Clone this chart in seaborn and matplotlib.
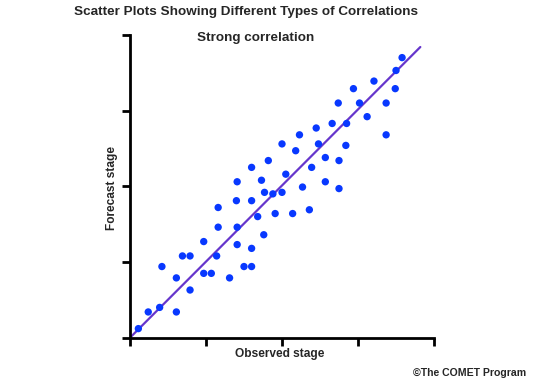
import matplotlib
matplotlib.use("Agg")
import matplotlib.pyplot as plt
import seaborn as sns
import pandas as pd

# Data
observed = [0.11, 0.24, 0.39, 0.61, 0.42, 0.61, 0.79, 0.69, 0.79, 0.97,
            0.97, 1.07, 1.14, 1.31, 1.16, 1.16, 1.41, 1.50, 1.60, 1.60,
            1.76, 1.41, 1.40, 1.60, 1.41, 1.60, 1.73, 1.82, 1.77, 1.88,
            2.00, 1.68, 1.91, 2.14, 2.36, 2.00, 2.23, 2.18, 2.05, 2.27,
            2.39, 2.48, 2.57, 2.57, 2.75, 2.75, 2.45, 2.66, 2.85, 2.84,
            2.74, 2.94, 3.02, 3.12, 3.21, 3.37, 3.37, 3.49, 3.50, 3.58]
forecast = [0.12, 0.34, 0.40, 0.34, 0.94, 0.79, 0.63, 1.08, 1.08, 1.27,
            0.85, 0.85, 1.08, 0.79, 1.46, 1.72, 1.23, 0.94, 0.94, 1.18,
            1.36, 1.46, 1.81, 1.81, 2.06, 2.25, 2.08, 2.34, 1.92, 1.90,
            1.92, 1.60, 1.64, 1.64, 1.69, 2.56, 2.68, 2.47, 2.16, 1.99,
            2.25, 2.56, 2.38, 2.06, 2.34, 1.97, 2.77, 2.83, 2.83, 2.54,
            3.10, 3.29, 3.10, 2.92, 3.39, 3.10, 2.68, 3.29, 3.53, 3.70]
fit_x = [0.0, 3.82]
fit_y = [0.0, 3.84]
ticks = [0, 1, 2, 3, 4]

title = "Scatter Plots Showing Different Types of Correlations"
subtitle = "Strong correlation"
xlabel = "Observed stage"
ylabel = "Forecast stage"
credit = "\u00a9The COMET Program"

sns.set_style("ticks")
plt.rcParams['font.family'] = ['Liberation Sans', 'DejaVu Sans']

df = pd.DataFrame({"obs": observed, "fcst": forecast})
line_df = pd.DataFrame({"x": fit_x, "y": fit_y})

fig = plt.figure(figsize=(5.4, 3.85), dpi=100)
ax = fig.add_axes([130 / 540, (385 - 337.7) / 385, 304 / 540, (337.7 - 34.9) / 385])

sns.lineplot(data=line_df, x="x", y="y", ax=ax, color="#6636cc", linewidth=1.6,
             zorder=2)
sns.scatterplot(data=df, x="obs", y="fcst", ax=ax, color="#0838ff", s=28,
                edgecolor="none", zorder=3, clip_on=False)

ax.set_xlim(0, 4)
ax.set_ylim(0, 4)
ax.set_xticks(ticks)
ax.set_yticks(ticks)
ax.set_xticklabels([])
ax.set_yticklabels([])
ax.set_xlabel("")
ax.set_ylabel("")
for side in ["top", "right"]:
    ax.spines[side].set_visible(False)
for side in ["left", "bottom"]:
    ax.spines[side].set_linewidth(2)
    ax.spines[side].set_color("black")
    ax.spines[side].set_capstyle("projecting")
ax.tick_params(direction="out", length=6, width=2, color="black")

fs = 9.7
fig.text(246.5 / 540, 1 - 12 / 385, title, ha="center", va="center",
         fontsize=fs, fontweight="bold")
fig.text(255.3 / 540, 1 - 38.3 / 385, subtitle, ha="center", va="center",
         fontsize=fs, fontweight="bold")
fig.text(279.5 / 540, 1 - 354 / 385, xlabel, ha="center", va="center",
         fontsize=8.6, fontweight="bold")
fig.text(112 / 540, 1 - 188 / 385, ylabel, ha="center", va="center",
         rotation=90, fontsize=8.6, fontweight="bold")
fig.text(413.3 / 540, 1 - 372.7 / 385, credit, ha="left", va="center",
         fontsize=7.6, fontweight="bold")

fig.savefig("out.png", dpi=100)
